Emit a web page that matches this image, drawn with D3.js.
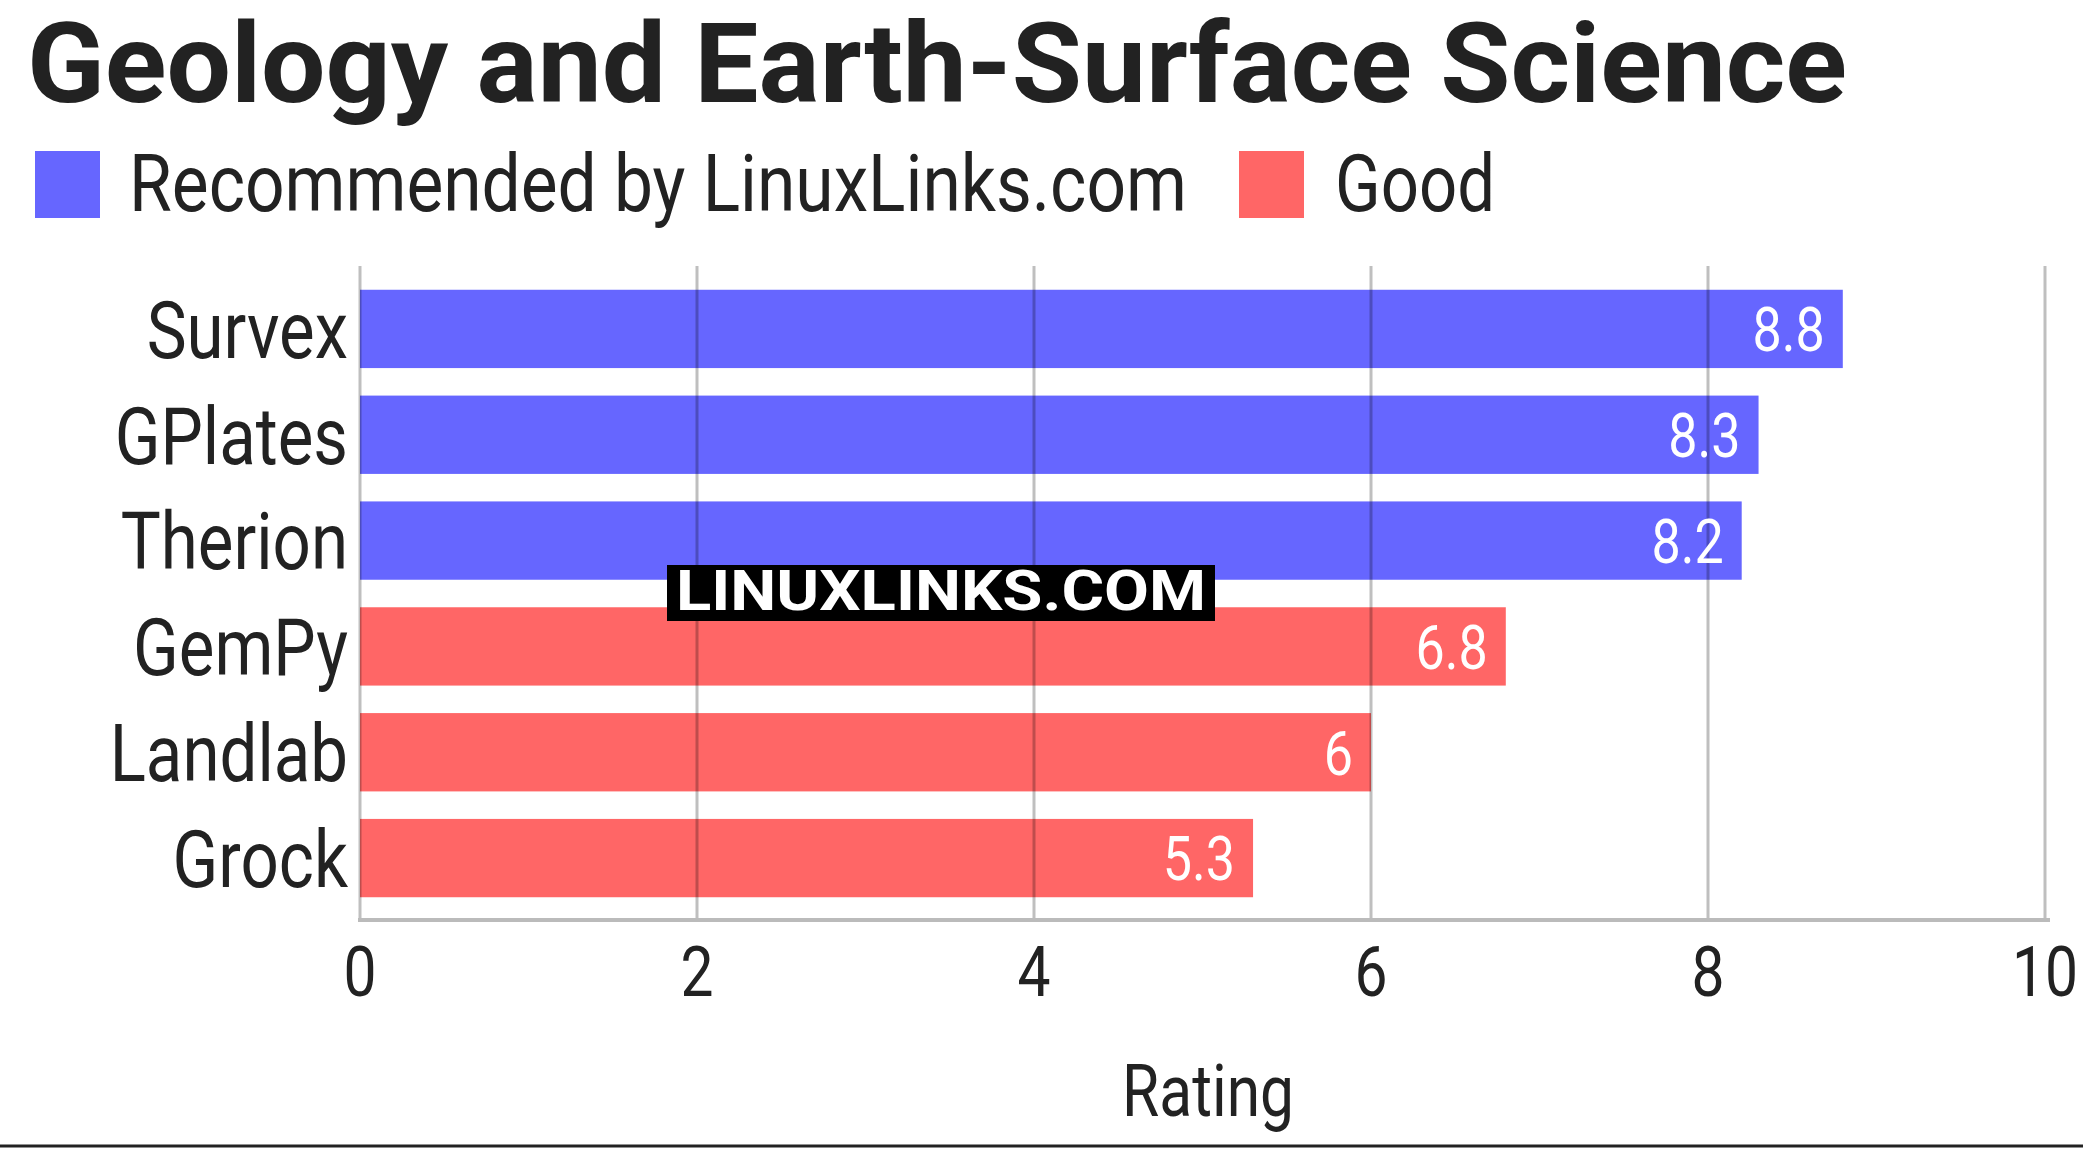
<!DOCTYPE html>
<html><head><meta charset="utf-8">
<script src="https://cdn.jsdelivr.net/npm/d3@7"></script>
<style>body{margin:0;background:#fff}svg{display:block}text{font-family:Roboto,sans-serif}</style>
</head><body><svg id="c" width="2083" height="1149"></svg>
<script>
const categories = ["Survex","GPlates","Therion","GemPy","Landlab","Grock"];
const ratings = [8.8,8.3,8.2,6.8,6,5.3];
const groups = ["Recommended by LinuxLinks.com","Recommended by LinuxLinks.com","Recommended by LinuxLinks.com","Good","Good","Good"];
const legendLabels = ["Recommended by LinuxLinks.com","Good"];
const xTicks = [0,2,4,6,8,10];
const colors = {"Recommended by LinuxLinks.com":"#6666ff","Good":"#ff6666"};

const svg = d3.select("#c");
const x = d3.scaleLinear().domain([0,10]).range([360,2045]);
const y = d3.scaleBand().domain(categories).range([276,911]).paddingInner(0.26).paddingOuter(0.13);
const SX = 0.84;
function squeeze(a){ return `translate(${a},0) scale(${SX},1) translate(${-a},0)`; }

svg.append("text").attr("x",27).attr("y",102).attr("font-size",112).attr("font-weight",700).attr("fill","#222")
  .attr("textLength",1820).attr("lengthAdjust","spacingAndGlyphs").text("Geology and Earth-Surface Science");

const lx=[35,1239], tx=[129,1335], tl=[1058,160];
legendLabels.forEach((l,i)=>{
  svg.append("rect").attr("x",lx[i]).attr("y",151).attr("width",65).attr("height",67).attr("fill",colors[l]);
  svg.append("text").attr("x",tx[i]).attr("y",211).attr("font-size",80).attr("fill","#222")
    .attr("textLength",tl[i]).attr("lengthAdjust","spacingAndGlyphs").text(l);
});

svg.selectAll("rect.bar").data(categories).join("rect").attr("class","bar")
  .attr("x",x(0)).attr("y",d=>y(d)).attr("height",y.bandwidth())
  .attr("width",(d,i)=>x(ratings[i])-x(0)).attr("fill",(d,i)=>colors[groups[i]]);

svg.selectAll("line.grid").data(xTicks).join("line").attr("class","grid")
  .attr("x1",d=>x(d)).attr("x2",d=>x(d)).attr("y1",266).attr("y2",919)
  .attr("stroke","#000").attr("stroke-opacity",0.25).attr("stroke-width",3);
svg.append("line").attr("x1",358).attr("x2",2050).attr("y1",920).attr("y2",920).attr("stroke","#bbb").attr("stroke-width",4);

svg.selectAll("text.cat").data(categories).join("text").attr("class","cat")
  .attr("x",348).attr("y",d=>y(d)+y.bandwidth()/2).attr("dy","0.36em").attr("text-anchor","end")
  .attr("font-size",80).attr("fill","#222").text(d=>d).attr("transform",squeeze(348));

svg.selectAll("text.val").data(categories).join("text").attr("class","val")
  .attr("x",(d,i)=>x(ratings[i])-18).attr("y",d=>y(d)+y.bandwidth()/2).attr("dy","0.36em").attr("text-anchor","end")
  .attr("font-size",62).attr("fill","#fff").text((d,i)=>ratings[i])
  .attr("transform",(d,i)=>squeeze(x(ratings[i])-18));

svg.selectAll("text.tick").data(xTicks).join("text").attr("class","tick")
  .attr("x",d=>x(d)).attr("y",996).attr("text-anchor","middle").attr("font-size",70).attr("fill","#222").text(d=>d)
  .attr("transform",d=>squeeze(x(d)));

svg.append("text").attr("x",1208).attr("y",1116).attr("text-anchor","middle").attr("font-size",72).attr("fill","#222").text("Rating")
  .attr("transform",squeeze(1208));

svg.append("line").attr("x1",0).attr("x2",2083).attr("y1",1146).attr("y2",1146).attr("stroke","#222").attr("stroke-width",3);

svg.append("rect").attr("x",667).attr("y",565).attr("width",548).attr("height",56).attr("fill","#000");
svg.append("text").attr("x",941).attr("y",610).attr("text-anchor","middle").attr("font-size",56).attr("font-weight",700)
  .attr("fill","#fff").attr("textLength",530).attr("lengthAdjust","spacingAndGlyphs").text("LINUXLINKS.COM");
</script></body></html>
